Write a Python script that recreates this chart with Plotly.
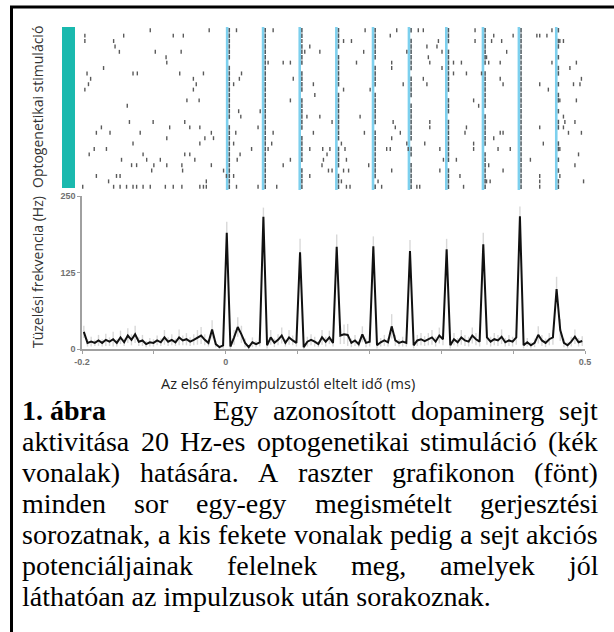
import plotly.graph_objects as go

W, H = 614, 632

# ---------------- data ----------------
pulse_times = [0.002, 0.052, 0.103, 0.154, 0.205, 0.255, 0.307, 0.358, 0.408, 0.460]
n_trials = 30
evoked_latency = 0.003
# one string per light pulse, one character per trial (1 = spike right after pulse)
evoked_pattern = [
    "111111011111111110111111111111",
    "111111111111111111111111111111",
    "110111101111011111101111101111",
    "111101111110111111111011110111",
    "111111011110111111011111111101",
    "101111110111101111111011011111",
    "111011111111011101111111101111",
    "111111101111111011111101111111",
    "111111111111111111111111111111",
    "101101011010110101100110101011",
]
# spontaneous spikes: (time in ms, trial)
spont_spikes = [
    (-196, 1), (-196, 2), (-142, 1), (-105, 0), (-73, 1), (-59, 1), (-23, 0), (-156, 2),
    (-154, 3), (-148, 4), (-98, 4), (-83, 5), (-82, 6), (-62, 4), (-170, 7), (-193, 8),
    (-188, 9), (-191, 10), (-196, 11), (-129, 8), (-123, 8), (-64, 8), (-45, 9), (-41, 10),
    (-31, 8), (-45, 11), (-37, 13), (-54, 13), (-137, 14), (-180, 19), (-173, 18), (-161, 19),
    (-134, 17), (-119, 19), (-101, 17), (-78, 18), (-57, 17), (-50, 18), (-36, 18), (-29, 20),
    (-20, 19), (-17, 20), (-82, 20), (-36, 21), (-129, 21), (-166, 22), (-115, 23), (-110, 24),
    (-91, 24), (-57, 23), (-50, 23), (-43, 24), (-183, 22), (-190, 23), (-145, 24), (-131, 25),
    (-124, 25), (-103, 26), (-100, 25), (-82, 25), (-61, 25), (-60, 26), (-20, 25), (-180, 27),
    (-152, 27), (-147, 27), (-163, 28), (-156, 29), (-147, 29), (-138, 29), (-129, 29), (-124, 29),
    (-115, 29), (-105, 29), (-84, 29), (-73, 29), (-61, 29), (-36, 29), (-31, 29), (-27, 29),
    (-199, 29), (-27, 28), (-3, 26), (1, 27),
    (15, 0), (11, 10), (19, 9), (22, 8), (18, 15), (21, 16), (14, 19), (20, 23), (16, 24),
    (11, 21), (15, 29), (11, 27), (36, 22), (48, 15), (45, 18), (59, 22), (66, 19), (64, 21),
    (71, 29), (80, 6), (90, 6), (80, 25), (94, 9), (90, 13), (90, 24), (106, 2), (110, 4),
    (45, 29), (66, 0), (59, 6),
    (117, 3), (131, 4), (122, 10), (124, 12), (113, 16), (131, 16), (148, 17), (122, 19),
    (117, 22), (135, 22), (117, 27), (134, 25), (136, 24), (141, 23), (145, 22), (143, 26),
    (148, 26),
    (164, 2), (175, 2), (182, 6), (192, 4), (187, 16), (193, 19), (199, 25), (164, 11),
    (161, 21), (166, 22), (168, 24), (164, 26), (171, 26), (168, 29), (173, 29), (161, 28),
    (194, 0),
    (201, 11), (229, 1), (238, 0), (231, 6), (231, 7), (233, 17), (236, 18), (243, 19),
    (231, 20), (224, 22), (229, 22), (231, 26), (217, 29), (212, 28),
    (252, 4), (247, 10), (268, 0), (275, 0), (280, 3), (294, 3), (296, 2), (301, 4),
    (282, 5), (284, 6), (275, 9), (280, 10), (284, 17), (284, 18), (277, 21), (266, 29),
    (270, 29), (252, 21), (254, 22),
    (317, 6), (328, 6), (335, 8), (317, 8), (301, 7), (335, 18), (333, 19), (321, 24),
    (298, 22), (298, 26), (326, 27), (331, 29), (303, 24),
    (347, 0), (347, 2), (345, 13), (352, 14), (345, 21), (345, 22), (363, 28), (368, 28),
    (366, 25), (356, 8), (363, 5), (366, 6), (373, 1), (370, 2), (384, 2), (391, 4),
    (382, 6), (382, 9), (386, 10), (382, 19), (386, 19), (373, 20), (386, 26), (396, 22),
    (379, 22),
    (400, 1), (424, 24), (437, 18), (442, 21), (437, 27), (437, 28), (437, 29), (437, 10),
    (449, 11), (433, 1), (437, 1), (447, 1), (454, 0), (454, 6),
    (465, 2), (470, 2), (465, 13), (470, 16), (472, 17), (470, 18), (477, 19), (486, 17),
    (495, 19), (488, 13), (488, 6), (479, 7), (484, 10), (493, 10), (495, 9), (498, 28),
    (491, 23), (486, 25), (465, 22), (465, 27),
]

# PSTH
bin_start = -0.2
bin_width = 0.0051
rate_hz = [
    28, 10, 12, 10, 14, 10, 15, 12, 16, 10, 19, 11, 22, 15, 24, 12, 14, 8, 11, 10,
    14, 11, 19, 12, 15, 11, 19, 14, 16, 12, 15, 19, 22, 15, 10, 32, 8, 3, 6,
    190, 4, 19, 36, 24, 10, 3, 11, 8, 11,
    216, 6, 19, 10, 15, 22, 10, 19, 14, 10,
    158, 3, 12, 15, 12, 8, 19, 12, 19, 10,
    167, 22, 24, 23, 10, 14, 8, 24, 10, 12,
    168, 6, 11, 14, 11, 37, 14, 10, 12, 10,
    160, 6, 14, 16, 13, 16, 19, 12, 22, 16,
    163, 6, 16, 11, 19, 14, 12, 22, 16, 12,
    171, 19, 12, 16, 14, 20, 11, 14, 12, 19,
    217, 6, 11, 6, 10, 23, 14, 10, 16, 19,
    98, 31, 10, 6, 12, 20, 11, 13,
]
rate_err = [
    10, 6, 8, 5, 9, 6, 10, 7, 12, 6,
    11, 6, 12, 9, 14, 7, 9, 5, 7, 6,
    8, 6, 12, 7, 9, 6, 13, 8, 10, 7,
    9, 12, 14, 9, 6, 15, 5, 3, 5, 18,
    4, 12, 16, 14, 7, 3, 8, 5, 7, 15,
    5, 12, 7, 9, 13, 6, 12, 8, 6, 22,
    3, 8, 9, 8, 5, 12, 8, 11, 6, 20,
    14, 16, 18, 7, 9, 5, 13, 7, 8, 16,
    5, 7, 9, 7, 20, 9, 6, 8, 6, 18,
    5, 9, 10, 8, 10, 12, 8, 13, 10, 17,
    5, 10, 7, 12, 9, 8, 13, 10, 8, 19,
    12, 8, 10, 9, 12, 7, 9, 8, 12, 16,
    5, 7, 5, 7, 14, 9, 7, 10, 12, 20,
    18, 7, 5, 8, 12, 7, 8,
]
x_tick_vals = [-0.2, -0.1, 0, 0.1, 0.2, 0.3, 0.4, 0.5]
x_tick_text = ["-0.2", "", "0", "", "", "", "", "0.5"]
y_tick_vals = [0, 125, 250]
y_tick_text = ["0", "125", "250"]

raster_label = "Optogenetikai stimuláció"
psth_label = "Tüzelési frekvencia (Hz)"
x_label = "Az első fényimpulzustól eltelt idő (ms)"
caption_bold = "1. ábra"
caption_lines = [
    "Egy azonosított dopaminerg sejt",
    "aktivitása 20 Hz-es optogenetikai stimuláció (kék",
    "vonalak) hatására. A raszter grafikonon (fönt)",
    "minden sor egy-egy megismételt gerjesztési",
    "sorozatnak, a kis fekete vonalak pedig a sejt akciós",
    "potenciáljainak felelnek meg, amelyek jól",
    "láthatóan az impulzusok után sorakoznak.",
]

# ---------------- helpers ----------------
def px(x):
    return x / W


def py(y):
    return 1 - y / H


# Times-compatible advance widths (1/1000 em)
TW = {' ': 250, 'a': 444, 'b': 500, 'c': 444, 'd': 500, 'e': 444, 'f': 333, 'g': 500,
      'h': 500, 'i': 278, 'j': 278, 'k': 500, 'l': 278, 'm': 778, 'n': 500, 'o': 500,
      'p': 500, 'q': 500, 'r': 333, 's': 389, 't': 278, 'u': 500, 'v': 500, 'w': 722,
      'x': 500, 'y': 500, 'z': 444, 'A': 722, 'E': 611, 'H': 722, '0': 500, '2': 500,
      '(': 333, ')': 333, ',': 250, '.': 250, '-': 333,
      'á': 444, 'é': 444, 'í': 278, 'ó': 500, 'ö': 500, 'ő': 500, 'ú': 500, 'ü': 500}


def tw(s, size):
    return sum(TW.get(c, 500) for c in s) * size / 1000.0


fig = go.Figure()

# pulse lines (cyan)
lx, ly = [], []
for t in pulse_times:
    lx += [t, t, None]
    ly += [-0.6, n_trials - 0.4, None]
fig.add_trace(go.Scatter(x=lx, y=ly, mode="lines", line=dict(color="#7dd0ee", width=2.6),
                         hoverinfo="skip", showlegend=False, xaxis="x", yaxis="y"))

# spontaneous spikes
fig.add_trace(go.Scatter(
    x=[t / 1000.0 for t, _ in spont_spikes], y=[r for _, r in spont_spikes],
    mode="markers", marker=dict(symbol="line-ns", size=2.8, line=dict(width=1.4, color="#5a5a5a")),
    showlegend=False, xaxis="x", yaxis="y"))

# evoked spikes
ex, ey = [], []
for t, pat in zip(pulse_times, evoked_pattern):
    for r, c in enumerate(pat):
        if c == "1":
            ex.append(t + evoked_latency)
            ey.append(r)
fig.add_trace(go.Scatter(
    x=ex, y=ey, mode="markers",
    marker=dict(symbol="line-ns", size=3.2, line=dict(width=1.5, color="#4d5a60")),
    showlegend=False, xaxis="x", yaxis="y"))

# PSTH
bx = [bin_start + (k + 0.5) * bin_width for k in range(len(rate_hz))]
fig.add_trace(go.Scatter(
    x=bx, y=rate_hz, mode="markers", marker=dict(size=1, opacity=0),
    error_y=dict(type="data", array=rate_err, color="rgba(200,200,200,0.7)", thickness=1.4, width=0),
    showlegend=False, hoverinfo="skip", xaxis="x2", yaxis="y2"))
fig.add_trace(go.Scatter(
    x=bx, y=rate_hz, mode="lines", line=dict(color="#111111", width=2),
    showlegend=False, xaxis="x2", yaxis="y2", cliponaxis=False))

tickfont = dict(family="Liberation Sans, Arial, sans-serif", size=9, color="#707070", weight="bold")
xdom = [px(82), px(585)]

fig.update_layout(
    width=W, height=H, autosize=False,
    margin=dict(l=0, r=0, t=0, b=0, pad=0),
    paper_bgcolor="white", plot_bgcolor="white",
    xaxis=dict(domain=xdom, range=[-0.2, 0.5], visible=False, anchor="y", automargin=False),
    yaxis=dict(domain=[py(190), py(27)], range=[n_trials - 0.4, -0.6], visible=False, anchor="x",
               automargin=False),
    xaxis2=dict(domain=xdom, range=[-0.2, 0.5], anchor="y2", showline=True, linecolor="#a0a0a0",
                linewidth=1.5, ticks="outside", ticklen=3, tickcolor="#a0a0a0", tickwidth=1,
                tickvals=x_tick_vals, ticktext=x_tick_text, tickfont=tickfont,
                showgrid=False, zeroline=False, automargin=False),
    yaxis2=dict(domain=[py(349), py(196)], range=[0, 250], anchor="x2", showline=True,
                linecolor="#a0a0a0", linewidth=1.5, ticks="outside", ticklen=3,
                tickcolor="#a0a0a0", tickwidth=1, tickvals=y_tick_vals, ticktext=y_tick_text,
                tickfont=tickfont, showgrid=False, zeroline=False, automargin=False),
)

shapes = [
    # teal stimulation bar
    dict(type="rect", xref="paper", yref="paper", x0=px(62), x1=px(75), y0=py(188), y1=py(27),
         fillcolor="#1ab9ae", line=dict(width=0)),
    # frame lines (top and left)
    dict(type="line", xref="paper", yref="paper", x0=px(10), x1=1, y0=py(7), y1=py(7),
         line=dict(color="black", width=3)),
    dict(type="line", xref="paper", yref="paper", x0=px(11.5), x1=px(11.5), y0=0, y1=py(7),
         line=dict(color="black", width=3)),
]
fig.update_layout(shapes=shapes)

ann = []
labfont = dict(family="Open Sans, Noto Sans, sans-serif", size=14, color="#333333")
ann.append(dict(text=raster_label, x=px(37), y=py(107), xref="paper", yref="paper",
                textangle=-90, showarrow=False, font=labfont, xanchor="center", yanchor="middle"))
ann.append(dict(text=psth_label, x=px(37), y=py(272), xref="paper", yref="paper",
                textangle=-90, showarrow=False, font=labfont, xanchor="center", yanchor="middle"))
ann.append(dict(text=x_label, x=px(288), y=py(383), xref="paper", yref="paper",
                showarrow=False, font=dict(family="Open Sans, Noto Sans, sans-serif", size=14.5, color="#222222"),
                xanchor="center", yanchor="middle"))

# caption (justified, Times-like)
CS = 28
cap_font = dict(family="Liberation Serif, Times New Roman, serif", size=CS, color="black")
left, right = 21, 597
base0, lead = 420, 31
ann.append(dict(text="<b>" + caption_bold + "</b>", x=px(left), y=py(base0 - 9.5), xref="paper",
                yref="paper", showarrow=False, font=cap_font, xanchor="left", yanchor="middle",
                borderpad=0))
for i, line in enumerate(caption_lines):
    yc = py(base0 + i * lead - 9.5)
    x0 = 212 if i == 0 else left
    words = line.split(" ")
    last = i == len(caption_lines) - 1
    if last:
        ann.append(dict(text=line, x=px(x0), y=yc, xref="paper", yref="paper", showarrow=False,
                        font=cap_font, xanchor="left", yanchor="middle", borderpad=0))
        continue
    widths = [tw(w, CS) for w in words]
    gap = (right - x0 - sum(widths)) / (len(words) - 1)
    xx = x0
    for w, wd in zip(words, widths):
        ann.append(dict(text=w, x=px(xx), y=yc, xref="paper", yref="paper", showarrow=False,
                        font=cap_font, xanchor="left", yanchor="middle", borderpad=0))
        xx += wd + gap

fig.update_layout(annotations=ann)
fig.write_html(
    "out.html",
    config={"displayModeBar": False},
    post_script=("document.body.style.margin='0px';"
                 "document.body.style.overflow='hidden';"
                 "document.documentElement.style.overflow='hidden';"),
)
